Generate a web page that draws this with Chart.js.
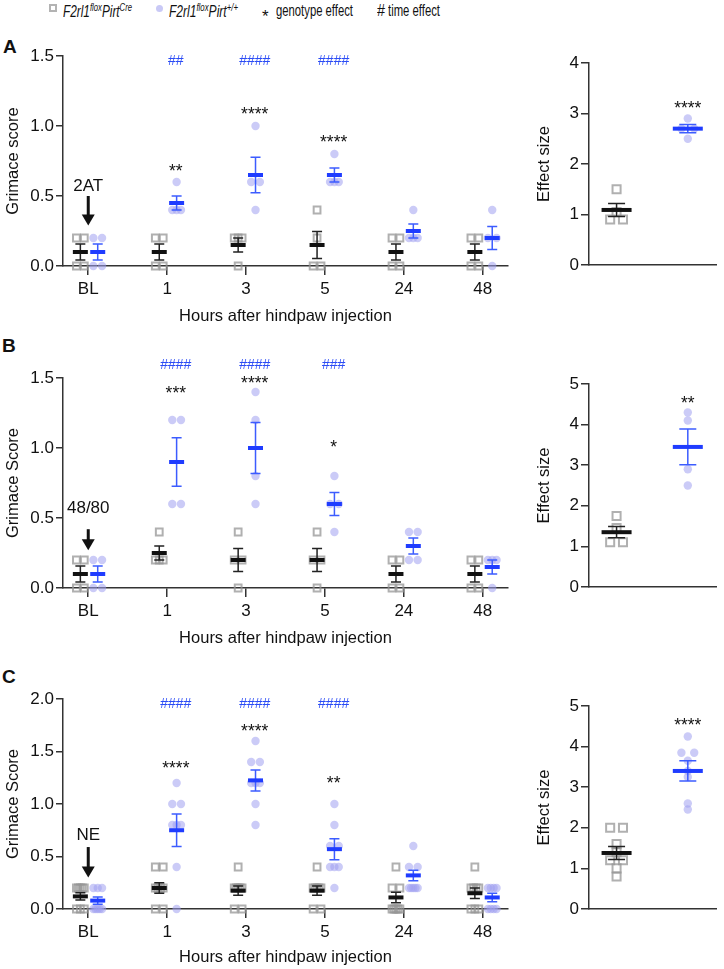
<!DOCTYPE html>
<html>
<head>
<meta charset="utf-8">
<script src="https://cdn.jsdelivr.net/npm/chart.js@4"></script>
<style>
  body { margin: 0; width: 724px; height: 969px; position: relative; background: #fff; overflow: hidden;
         font-family: "Liberation Sans", Arial, sans-serif; color: #111; }
  canvas { position: absolute; }
  .panel { position: absolute; font-weight: bold; font-size: 19px; line-height: 1; }
  .leg { position: absolute; top: 2px; font-size: 17px; line-height: 1; white-space: nowrap; transform-origin: left top; }
  .leg sup { font-size: 0.65em; vertical-align: 0.55em; }
</style>
</head>
<body>
<div class="panel" style="left:3px;top:37px">A</div>
<div class="panel" style="left:2px;top:336px">B</div>
<div class="panel" style="left:2px;top:667px">C</div>

<div style="position:absolute;left:49px;top:4px;width:4px;height:4px;border:2px solid #b3b3b3"></div>
<span class="leg" data-w="69" style="left:63px"><i>F2rl1<sup>flox</sup>Pirt<sup>Cre</sup></i></span>
<div style="position:absolute;left:156px;top:5px;width:7px;height:7px;border-radius:50%;background:#c9c9f6"></div>
<span class="leg" data-w="69" style="left:169px"><i>F2rl1<sup>flox</sup>Pirt<sup>+/+</sup></i></span>
<span class="leg" style="left:262px;top:8px">*</span>
<span class="leg" data-w="77" style="left:276px">genotype effect</span>
<span class="leg" data-w="8" style="left:377px">#</span>
<span class="leg" data-w="52" style="left:388px">time effect</span>

<canvas id="aL" width="515" height="300" style="left:0;top:30px"></canvas>
<canvas id="aR" width="209" height="300" style="left:515px;top:30px"></canvas>
<canvas id="bL" width="515" height="320" style="left:0;top:330px"></canvas>
<canvas id="bR" width="209" height="320" style="left:515px;top:330px"></canvas>
<canvas id="cL" width="515" height="319" style="left:0;top:650px"></canvas>
<canvas id="cR" width="209" height="319" style="left:515px;top:650px"></canvas>

<script>
const timeLabels = ['BL', '1', '3', '5', '24', '48'];

// A: grimace score, 2AT (n = 4)
const aCre = [[0.2, 0.2, 0, 0], [0.2, 0.2, 0, 0], [0.2, 0.2, 0.2, 0], [0.4, 0.2, 0, 0], [0.2, 0.2, 0, 0], [0.2, 0.2, 0, 0]];
const aWt = [[0.2, 0.2, 0, 0], [0.6, 0.4, 0.4, 0.4], [1.0, 0.6, 0.6, 0.4], [0.8, 0.6, 0.6, 0.6], [0.4, 0.2, 0.2, 0.2], [0.4, 0.2, 0.2, 0]];
const aCreMean = [0.1, 0.1, 0.15, 0.15, 0.1, 0.1];
const aCreSem = [0.058, 0.058, 0.05, 0.096, 0.058, 0.058];
const aWtMean = [0.1, 0.45, 0.65, 0.65, 0.25, 0.2];
const aWtSem = [0.058, 0.05, 0.126, 0.05, 0.05, 0.082];
const aStars = ['', '**', '****', '****', '', ''];
const aHashes = ['', '##', '####', '####', '', ''];
const aEffCre = [1.5, 1.05, 0.9, 0.9];
const aEffWt = [2.9, 2.7, 2.7, 2.5];
const aEffMean = [1.09, 2.7];
const aEffSem = [0.13, 0.08];

// B: grimace score, 48/80 (n = 4)
const bCre = [[0.2, 0.2, 0, 0], [0.4, 0.2, 0.2, 0.2], [0.4, 0.2, 0.2, 0], [0.4, 0.2, 0.2, 0], [0.2, 0.2, 0, 0], [0.2, 0.2, 0, 0]];
const bWt = [[0.2, 0.2, 0, 0], [1.2, 1.2, 0.6, 0.6], [1.4, 1.2, 0.8, 0.6], [0.8, 0.6, 0.6, 0.4], [0.4, 0.4, 0.2, 0.2], [0.2, 0.2, 0.2, 0]];
const bCreMean = [0.1, 0.25, 0.2, 0.2, 0.1, 0.1];
const bCreSem = [0.058, 0.05, 0.082, 0.082, 0.058, 0.058];
const bWtMean = [0.1, 0.9, 1.0, 0.6, 0.3, 0.15];
const bWtSem = [0.058, 0.173, 0.183, 0.082, 0.058, 0.05];
const bStars = ['', '***', '****', '*', '', ''];
const bHashes = ['', '####', '####', '###', '', ''];
const bEffCre = [1.75, 1.45, 1.1, 1.1];
const bEffWt = [4.3, 4.1, 2.9, 2.5];
const bEffMean = [1.35, 3.45];
const bEffSem = [0.14, 0.44];

// C: grimace score, NE (n = 8)
const cCre = [[0.2, 0.2, 0.2, 0.2, 0.2, 0, 0, 0], [0.4, 0.4, 0.2, 0.2, 0.2, 0.2, 0, 0], [0.4, 0.2, 0.2, 0.2, 0.2, 0.2, 0, 0],
              [0.4, 0.2, 0.2, 0.2, 0.2, 0.2, 0, 0], [0.4, 0.2, 0.2, 0, 0, 0, 0, 0], [0.4, 0.2, 0.2, 0.2, 0.2, 0, 0, 0]];
const cWt = [[0.2, 0.2, 0.2, 0, 0, 0, 0, 0], [1.2, 1.0, 1.0, 0.8, 0.8, 0.8, 0.4, 0], [1.6, 1.4, 1.4, 1.2, 1.2, 1.2, 1.0, 0.8],
             [1.0, 0.8, 0.6, 0.6, 0.4, 0.4, 0.4, 0.2], [0.6, 0.4, 0.4, 0.2, 0.2, 0.2, 0.2, 0.2], [0.2, 0.2, 0.2, 0.2, 0, 0, 0, 0]];
const cCreMean = [0.12, 0.2, 0.175, 0.175, 0.11, 0.15];
const cCreSem = [0.035, 0.05, 0.045, 0.045, 0.05, 0.05];
const cWtMean = [0.08, 0.75, 1.225, 0.57, 0.32, 0.11];
const cWtSem = [0.035, 0.155, 0.1, 0.1, 0.05, 0.04];
const cStars = ['', '****', '****', '**', '', ''];
const cHashes = ['', '####', '####', '####', '', ''];
const cEffCre = [2.0, 2.0, 1.6, 1.4, 1.2, 1.2, 1.0, 0.8];
const cEffWt = [4.25, 3.85, 3.85, 3.65, 3.4, 3.25, 2.6, 2.45];
const cEffMean = [1.38, 3.4];
const cEffSem = [0.16, 0.25];

Chart.defaults.font.family = '"Liberation Sans", Arial, sans-serif';
Chart.defaults.color = '#111';

const AXIS = '#333';
const BLUE = '#1f3cff';
const BLUE_ERR = '#3c5cff';
const HASH = '#2b4cf5';

// place repeated values side by side around the group centre
function spreadPoints(groups, offset, step, maxSpan) {
  const pts = [];
  groups.forEach((vals, i) => {
    const counts = {}, seen = {};
    vals.forEach(v => counts[v] = (counts[v] || 0) + 1);
    vals.forEach(v => {
      const k = counts[v];
      const span = Math.min((k - 1) * step, maxSpan);
      const j = seen[v] = (seen[v] || 0) + 1;
      const dx = k > 1 ? -span / 2 + span * (j - 1) / (k - 1) : 0;
      pts.push({ x: i + offset + dx, y: v });
    });
  });
  return pts;
}

function drawText(ctx, text, x, y, size, color, lift) {
  ctx.font = size + 'px "Liberation Sans", Arial, sans-serif';
  ctx.fillStyle = color;
  ctx.textAlign = 'center';
  ctx.textBaseline = 'alphabetic';
  ctx.fillText(text, x, y + lift * size);
}

const overlay = {
  id: 'overlay',
  afterDatasetsDraw(chart, args, o) {
    const { ctx } = chart;
    const xs = chart.scales.x, ys = chart.scales.y;
    ctx.save();
    o.groups.forEach(g => {
      g.mean.forEach((m, i) => {
        const x = xs.getPixelForValue(i + g.offset);
        const yM = ys.getPixelForValue(m);
        const yHi = ys.getPixelForValue(m + g.sem[i]);
        const yLo = ys.getPixelForValue(m - g.sem[i]);
        ctx.strokeStyle = g.err;
        ctx.lineWidth = 1.5;
        ctx.beginPath();
        ctx.moveTo(x, yHi); ctx.lineTo(x, yLo);
        ctx.moveTo(x - o.cap / 2, yHi); ctx.lineTo(x + o.cap / 2, yHi);
        ctx.moveTo(x - o.cap / 2, yLo); ctx.lineTo(x + o.cap / 2, yLo);
        ctx.stroke();
        ctx.strokeStyle = g.color;
        ctx.lineWidth = 4;
        ctx.beginPath();
        ctx.moveTo(x - o.bar / 2, yM); ctx.lineTo(x + o.bar / 2, yM);
        ctx.stroke();
      });
    });
    (o.notes || []).forEach(n => {
      drawText(ctx, n.text, xs.getPixelForValue(n.x), ys.getPixelForValue(n.y), n.size, n.color, n.lift);
    });
    if (o.arrow) {
      const a = o.arrow;
      const x = xs.getPixelForValue(0);
      const top = ys.getPixelForValue(a.from), tip = ys.getPixelForValue(a.to);
      drawText(ctx, a.label, x, ys.getPixelForValue(a.labelY), 17, '#111', 0.36);
      ctx.strokeStyle = '#111';
      ctx.fillStyle = '#111';
      ctx.lineWidth = 3;
      ctx.beginPath(); ctx.moveTo(x, top); ctx.lineTo(x, tip - 8); ctx.stroke();
      ctx.beginPath(); ctx.moveTo(x - 6.5, tip - 11); ctx.lineTo(x + 6.5, tip - 11); ctx.lineTo(x, tip); ctx.closePath(); ctx.fill();
    }
    ctx.restore();
  }
};

function yAxis(max, step, title, width, tickLen, titlePad, digits) {
  return {
    min: 0, max: max,
    afterFit: s => { s.width = width; },
    border: { display: true, color: AXIS, width: 1.5 },
    grid: { drawOnChartArea: false, drawTicks: true, tickLength: tickLen, color: AXIS, lineWidth: 1.5 },
    ticks: { stepSize: step, padding: 2, font: { size: 17 }, color: '#111',
             callback: v => v.toFixed(digits) },
    title: { display: true, text: title, font: { size: 16.5 }, color: '#111', padding: { top: titlePad, bottom: 0 } }
  };
}

function leftPanel(id, d) {
  const notes = [];
  d.stars.forEach((s, i) => { if (s) notes.push({ x: i + 0.11, y: d.starY[i], text: s, size: 17.5, color: '#111', lift: 0.62 }); });
  d.hashes.forEach((s, i) => { if (s) notes.push({ x: i + 0.11, y: d.hashY, text: s, size: 14, color: HASH, lift: 0.36 }); });
  new Chart(document.getElementById(id), {
    type: 'scatter',
    data: {
      datasets: [
        { data: spreadPoints(d.cre, -0.1, 0.1, 0.1), pointStyle: 'rect', pointRadius: 4.8,
          backgroundColor: 'rgba(0,0,0,0)', borderColor: 'rgba(150,150,150,0.75)', borderWidth: 2, clip: false },
        { data: spreadPoints(d.wt, 0.12, 0.11, 0.11), pointStyle: 'circle', pointRadius: 4.2,
          backgroundColor: 'rgba(160,160,240,0.55)', borderWidth: 0, clip: false }
      ]
    },
    options: {
      responsive: false, animation: false, events: [],
      layout: { padding: { left: 0, right: 7, top: d.padTop, bottom: 0 } },
      plugins: {
        legend: { display: false }, tooltip: { enabled: false },
        overlay: {
          cap: 10, bar: 15, notes: notes, arrow: d.arrow,
          groups: [
            { mean: d.creMean, sem: d.creSem, offset: -0.1, color: '#111', err: '#222' },
            { mean: d.wtMean, sem: d.wtSem, offset: 0.12, color: BLUE, err: BLUE_ERR }
          ]
        }
      },
      scales: {
        x: {
          type: 'linear', min: -0.32, max: 5.32,
          afterFit: s => { s.height = d.xHeight; },
          afterBuildTicks: s => { s.ticks = timeLabels.map((_, i) => ({ value: i })); },
          border: { display: true, color: AXIS, width: 1.5 },
          grid: { drawOnChartArea: false, drawTicks: true, tickLength: 9, color: AXIS, lineWidth: 1.5 },
          ticks: { padding: 4, font: { size: 17 }, color: '#111', maxRotation: 0, callback: v => timeLabels[v] },
          title: { display: true, text: 'Hours after hindpaw injection', font: { size: 16.5 }, color: '#111',
                   padding: { top: 0, bottom: d.titlePad } }
        },
        y: yAxis(d.yMax, 0.5, d.yTitle, 63, 7, 4, 1)
      }
    },
    plugins: [overlay]
  });
}

function rightPanel(id, d) {
  new Chart(document.getElementById(id), {
    type: 'scatter',
    data: {
      datasets: [
        { data: spreadPoints([d.cre], 0, 0.18, 0.25), pointStyle: 'rect', pointRadius: 5.7,
          backgroundColor: 'rgba(0,0,0,0)', borderColor: 'rgba(150,150,150,0.75)', borderWidth: 2, clip: false },
        { data: spreadPoints([d.wt], 1, 0.18, 0.25), pointStyle: 'circle', pointRadius: 4.2,
          backgroundColor: 'rgba(160,160,240,0.55)', borderWidth: 0, clip: false }
      ]
    },
    options: {
      responsive: false, animation: false, events: [],
      layout: { padding: { left: 0, right: 0, top: d.padTop, bottom: 0 } },
      plugins: {
        legend: { display: false }, tooltip: { enabled: false },
        overlay: {
          cap: 17, bar: 30,
          notes: [{ x: 1, y: d.starY, text: d.stars, size: 17.5, color: '#111', lift: 0.62 }],
          groups: [
            { mean: [d.mean[0]], sem: [d.sem[0]], offset: 0, color: '#111', err: '#222' },
            { mean: [d.mean[1]], sem: [d.sem[1]], offset: 1, color: BLUE, err: BLUE_ERR }
          ]
        }
      },
      scales: {
        x: {
          type: 'linear', min: -0.387, max: 1.4,
          afterFit: s => { s.height = d.xHeight; },
          border: { display: true, color: AXIS, width: 1.5 },
          grid: { display: true, drawOnChartArea: false, drawTicks: false },
          ticks: { display: false }
        },
        y: yAxis(d.yMax, 1, 'Effect size', 74, 8, 20, 0)
      }
    },
    plugins: [overlay]
  });
}

leftPanel('aL', {
  cre: aCre, wt: aWt, creMean: aCreMean, creSem: aCreSem, wtMean: aWtMean, wtSem: aWtSem,
  stars: aStars, starY: [0, 0.71, 1.12, 0.92, 0, 0], hashes: aHashes, hashY: 1.47,
  arrow: { label: '2AT', labelY: 0.58, from: 0.5, to: 0.29 },
  yMax: 1.5, yTitle: 'Grimace score', padTop: 26, xHeight: 64, titlePad: 4
});
rightPanel('aR', { cre: aEffCre, wt: aEffWt, mean: aEffMean, sem: aEffSem, stars: '****', starY: 3.2,
  yMax: 4, padTop: 33, xHeight: 65 });

leftPanel('bL', {
  cre: bCre, wt: bWt, creMean: bCreMean, creSem: bCreSem, wtMean: bWtMean, wtSem: bWtSem,
  stars: bStars, starY: [0, 1.43, 1.5, 1.04, 0, 0], hashes: bHashes, hashY: 1.6,
  arrow: { label: '48/80', labelY: 0.58, from: 0.42, to: 0.27 },
  yMax: 1.5, yTitle: 'Grimace Score', padTop: 48, xHeight: 62, titlePad: 2
});
rightPanel('bR', { cre: bEffCre, wt: bEffWt, mean: bEffMean, sem: bEffSem, stars: '**', starY: 4.65,
  yMax: 5, padTop: 54, xHeight: 63 });

leftPanel('cL', {
  cre: cCre, wt: cWt, creMean: cCreMean, creSem: cCreSem, wtMean: cWtMean, wtSem: cWtSem,
  stars: cStars, starY: [0, 1.39, 1.74, 1.25, 0, 0], hashes: cHashes, hashY: 1.96,
  arrow: { label: 'NE', labelY: 0.72, from: 0.59, to: 0.3 },
  yMax: 2, yTitle: 'Grimace Score', padTop: 49, xHeight: 60, titlePad: 2
});
rightPanel('cR', { cre: cEffCre, wt: cEffWt, mean: cEffMean, sem: cEffSem, stars: '****', starY: 4.65,
  yMax: 5, padTop: 56, xHeight: 60 });

// squeeze the legend texts to the narrow widths of the original
document.querySelectorAll('.leg[data-w]').forEach(el => {
  const w = el.getBoundingClientRect().width;
  el.style.transform = 'scaleX(' + (Number(el.dataset.w) / w) + ')';
});
</script>
</body>
</html>
